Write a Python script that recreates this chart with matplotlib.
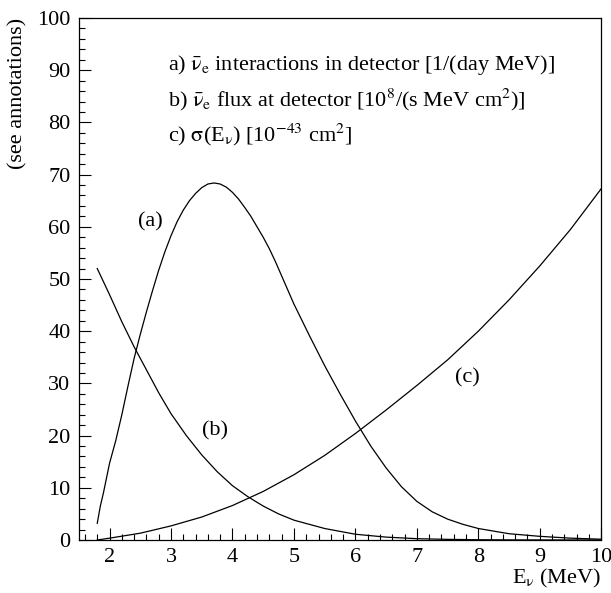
import numpy as np
import matplotlib
matplotlib.use("Agg")
import matplotlib.pyplot as plt
from matplotlib.ticker import MultipleLocator

plt.rcParams['font.family'] = ['Liberation Serif', 'DejaVu Serif']
plt.rcParams['mathtext.fontset'] = 'stix'

# (a) interactions in detector
E_a = [1.8, 1.85, 1.9, 2.0, 2.1, 2.2, 2.3, 2.4, 2.5, 2.6, 2.7, 2.8, 2.9, 3.0, 3.1, 3.2,
       3.3, 3.4, 3.5, 3.6, 3.7, 3.8, 3.9, 4.0, 4.1, 4.2, 4.3, 4.4, 4.5, 4.6, 4.7, 4.8,
       4.9, 5.0, 5.25, 5.5, 5.75, 6.0, 6.25, 6.5, 6.75, 7.0, 7.25, 7.5, 7.75, 8.0, 8.5,
       9.0, 9.5, 10.0]
int_a = [3.2, 6.5, 9.0, 14.7, 19.0, 24.0, 29.5, 34.8, 39.4, 43.7, 47.8, 51.7, 55.2, 58.3,
         61.0, 63.2, 65.0, 66.4, 67.5, 68.2, 68.4, 68.2, 67.6, 66.6, 65.3, 63.7, 62.0, 60.0,
         58.0, 55.8, 53.3, 50.6, 47.9, 45.2, 39.2, 33.4, 28.0, 22.8, 18.0, 13.8, 10.2, 7.4,
         5.4, 4.0, 3.0, 2.2, 1.2, 0.7, 0.35, 0.15]

# (b) flux at detector
E_b = [1.8, 2.0, 2.2, 2.4, 2.6, 2.8, 3.0, 3.25, 3.5, 3.75, 4.0, 4.25, 4.5, 4.75, 5.0,
       5.5, 6.0, 6.5, 7.0, 7.5, 8.0, 8.5, 9.0, 10.0]
flux_b = [52.0, 47.0, 41.8, 37.0, 32.6, 28.2, 24.2, 20.0, 16.3, 13.1, 10.4, 8.3, 6.5,
          5.0, 3.8, 2.2, 1.1, 0.55, 0.25, 0.12, 0.05, 0.02, 0.01, 0.0]

# (c) cross section
E_c = [1.8, 2.0, 2.5, 3.0, 3.5, 4.0, 4.5, 5.0, 5.5, 6.0, 6.5, 7.0, 7.5, 8.0, 8.5, 9.0, 9.5, 10.0]
sig_c = [0.0, 0.35, 1.3, 2.7, 4.4, 6.6, 9.3, 12.5, 16.2, 20.4, 24.9, 29.6, 34.5, 40.0,
         46.0, 52.5, 59.5, 67.3]

fig = plt.figure(figsize=(6.11, 5.93), dpi=100)
ax = fig.add_axes([0.129, 0.0894, 0.855, 0.8802])

ax.plot(E_a, int_a, color='black', lw=0.9)
ax.plot(E_b, flux_b, color='black', lw=0.9)
ax.plot(E_c, sig_c, color='black', lw=0.9)

ax.set_xlim(1.5, 10)
ax.set_ylim(0, 100)
ax.xaxis.set_major_locator(MultipleLocator(1))
ax.xaxis.set_minor_locator(MultipleLocator(0.2))
ax.yaxis.set_major_locator(MultipleLocator(10))
ax.yaxis.set_minor_locator(MultipleLocator(2))
ax.tick_params(which='both', direction='in', top=False, right=False, labelsize=16, width=0.8)
ax.tick_params(which='major', length=8.5, pad=6)
ax.tick_params(which='minor', length=4.5)
for s in ax.spines.values():
    s.set_linewidth(0.9)

fs = 16
nubar = r'$\bar{\mathrm{\nu}}_\mathrm{e}$'
ax.text(2.95, 91, 'a) ' + nubar + ' interactions in detector [1/(day MeV)]', fontsize=fs, va='center')
ax.text(2.95, 84.3, 'b) ' + nubar + r' flux at detector [10$^8$/(s MeV cm$^2$)]', fontsize=fs, va='center')
ax.text(2.95, 77.6, r'c) $\mathrm{\sigma}$(E$_\mathrm{\nu}$) [10$^{-43}$ cm$^2$]', fontsize=fs, va='center')

ax.text(2.66, 60.9, '(a)', fontsize=fs, ha='center', va='center')
ax.text(3.71, 21.0, '(b)', fontsize=fs, ha='center', va='center')
ax.text(7.82, 31.0, '(c)', fontsize=fs, ha='center', va='center')

fig.text(0.984, 0.025, r'E$_\mathrm{\nu}$ (MeV)', fontsize=16, ha='right', va='center')
fig.text(0.03, 0.9696, '(see annotations)', fontsize=16, rotation=90, ha='center', va='top')

fig.savefig('out.png', dpi=100)
